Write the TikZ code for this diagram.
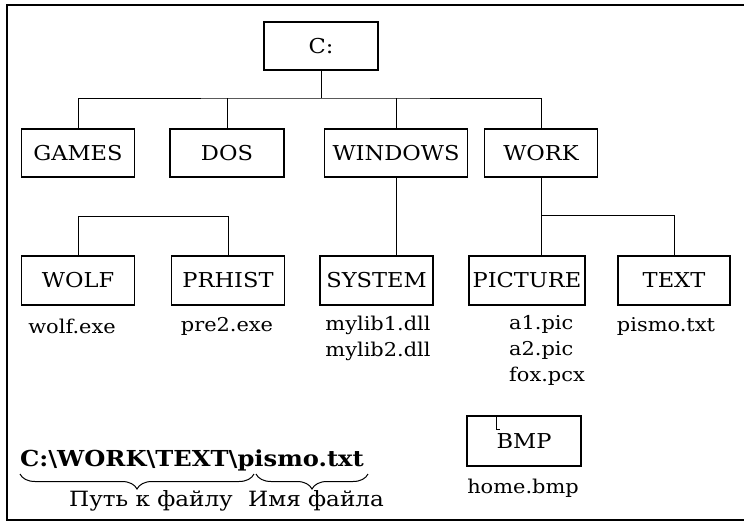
\documentclass[tikz,border=0pt]{standalone}
\usepackage{fontspec}
\setmainfont{DejaVu Serif}[FakeStretch=1.1]
\usetikzlibrary{decorations.pathreplacing}
\tikzset{
  dirbox/.style={draw, line width=1.1pt, inner sep=0pt, minimum height=48pt, font=\fontsize{20.5}{24}\selectfont},
  fname/.style={inner sep=0pt, font=\fontsize{19}{26}\selectfont},
  cyr/.style={inner sep=0pt, font=\fontsize{21}{24}\selectfont},
  link/.style={line width=1pt},
  cbrace/.style={decorate, decoration={brace, mirror, amplitude=15pt}, line width=1pt}
}
\begin{document}
\begin{tikzpicture}[x=1pt,y=-1pt]
\useasboundingbox (0,0) rectangle (744,528);
% frame
\draw[line width=1.1pt] (744,5) -- (7,5) -- (7,520) -- (744,520);
% level 1
\node[dirbox, minimum width=114pt] (C) at (321,46) {C:};
% level 2
\node[dirbox, minimum width=113pt] (GAMES) at (78,153) {GAMES};
\node[dirbox, minimum width=114pt] (DOS) at (227,153) {DOS};
\node[dirbox, minimum width=143pt] (WINDOWS) at (396,153) {WINDOWS};
\node[dirbox, minimum width=113pt] (WORK) at (541,153) {WORK};
\coordinate (hub) at (321,98);
\draw[link] (C.south) -- (hub);
\draw[link] (GAMES.north) |- (hub) -| (WORK.north);
\draw[link] (DOS.north) -- (DOS.north |- hub);
\draw[link] (WINDOWS.north) -- (WINDOWS.north |- hub);
% level 3
\node[dirbox, minimum width=113pt, minimum height=49pt] (WOLF) at (78,280.5) {WOLF};
\node[dirbox, minimum width=113pt, minimum height=49pt] (PRHIST) at (228,280.5) {PRHIST};
\node[dirbox, minimum width=113pt, minimum height=49pt] (SYSTEM) at (376.5,280.5) {SYSTEM};
\node[dirbox, minimum width=116pt, minimum height=49pt] (PICTURE) at (527,280.5) {PICTURE};
\node[dirbox, minimum width=112pt, minimum height=49pt] (TEXT) at (674,280.5) {TEXT};
\draw[link] (WOLF.north) -- ++(0,-39) -| (PRHIST.north);
\draw[link] (WINDOWS.south) -- (WINDOWS.south |- SYSTEM.north);
\draw[link] (WORK.south) -- (WORK.south |- PICTURE.north);
\draw[link] (WORK.south) ++(0,38) -| (TEXT.north);
% files
\node[fname] (f1) at (72,326) {wolf.exe};
\node[fname] (f2) at (227,326) {pre2.exe};
\node[fname, align=center] (f3) at (378,338) {mylib1.dll\\mylib2.dll};
\node[fname, align=left, anchor=west] (f4) at (509,350) {a1.pic\\a2.pic\\fox.pcx};
\node[fname] (f5) at (666,326) {pismo.txt};
% BMP
\node[dirbox, minimum width=114pt, minimum height=50pt] (BMP) at (524,441) {BMP};
\draw[link] ([xshift=-28pt]BMP.north) -- ++(0,14) -- ++(4,0);
\node[fname] (f6) at (523,488) {home.bmp};
% path
\node[inner sep=0pt, anchor=base west, font=\fontsize{22}{24}\selectfont\bfseries] (path) at (20,466) {C:\textbackslash WORK\textbackslash TEXT\textbackslash pismo.txt};
\coordinate (b1) at (20,474);
\coordinate (b2) at (254,474);
\coordinate (b3) at (256,474);
\coordinate (b4) at (368,474);
\draw[cbrace] (b1) -- (b2);
\draw[cbrace] (b3) -- (b4);
\node[cyr] (lbl1) at (151,501) {Путь к файлу};
\node[cyr] (lbl2) at (316,501) {Имя файла};
\end{tikzpicture}
\end{document}
